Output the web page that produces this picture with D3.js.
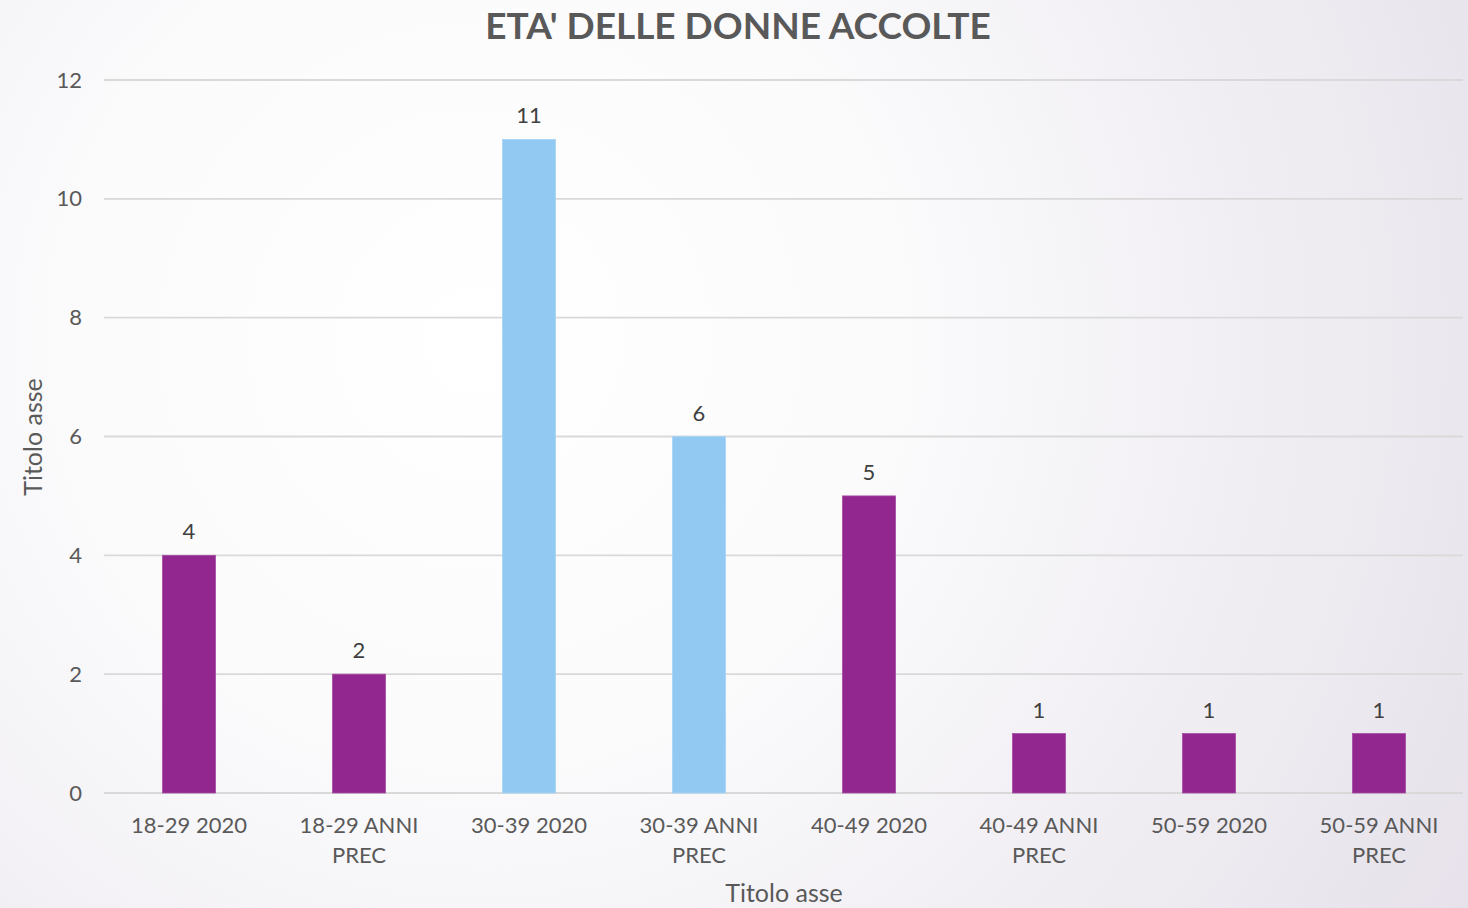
<!DOCTYPE html>
<html>
<head>
<meta charset="utf-8">
<script src="https://cdn.jsdelivr.net/npm/d3@7"></script>
<style>
  body { margin: 0; overflow: hidden; }
  text { font-family: "Lato", "Open Sans", sans-serif; }
</style>
</head>
<body>
<div id="display"></div>
<script>
var categories = [["18-29 2020"], ["18-29 ANNI", "PREC"], ["30-39 2020"], ["30-39 ANNI", "PREC"],
                  ["40-49 2020"], ["40-49 ANNI", "PREC"], ["50-59 2020"], ["50-59 ANNI", "PREC"]];
var values = [4, 2, 11, 6, 5, 1, 1, 1];
var barGroups = ["p", "p", "b", "b", "p", "p", "p", "p"];
var yTicks = [0, 2, 4, 6, 8, 10, 12];

var colourPurple = "#92278f";
var colourBlue = "#92c9f3";
var textColour = "#595959";

var W = 1468, H = 908,
  margin = {top: 80, right: 4, bottom: 115, left: 104},
  width = W - margin.left - margin.right,
  height = H - margin.top - margin.bottom;

var svg = d3.select("#display").append("svg")
    .attr("width", W)
    .attr("height", H);

var defs = svg.append("defs");
var grad = defs.append("radialGradient")
    .attr("id", "bg")
    .attr("gradientUnits", "userSpaceOnUse")
    .attr("cx", 480).attr("cy", 340).attr("r", 1150);
grad.append("stop").attr("offset", "0").attr("stop-color", "#ffffff");
grad.append("stop").attr("offset", "0.35").attr("stop-color", "#fbfbfc");
grad.append("stop").attr("offset", "1").attr("stop-color", "#e6e1ea");

svg.append("rect")
    .attr("width", W).attr("height", H)
    .attr("fill", "url(#bg)");

var g = svg.append("g")
    .attr("transform", "translate(" + margin.left + "," + margin.top + ")");

var x = d3.scaleBand()
    .domain(d3.range(values.length))
    .range([0, width])
    .paddingInner(0.688)
    .paddingOuter(0.344);

var y = d3.scaleLinear()
    .domain([0, 12])
    .range([height, 0]);

// gridlines
g.append("g")
    .selectAll("line")
    .data(yTicks)
    .enter().append("line")
      .attr("x1", 0)
      .attr("x2", width - 1)
      .attr("y1", function(d) { return y(d); })
      .attr("y2", function(d) { return y(d); })
      .attr("stroke", "#d9d9d9")
      .attr("stroke-width", 1.8);

// y axis labels
var yAxis = g.append("g")
    .call(d3.axisLeft(y).tickValues(yTicks).tickSize(0).tickPadding(22));
yAxis.select(".domain").remove();
yAxis.selectAll("text")
    .attr("fill", textColour)
    .style("font-size", "22px");

// bars
g.append("g")
    .selectAll("rect")
    .data(values)
    .enter().append("rect")
      .attr("x", function(d, i) { return x(i); })
      .attr("y", function(d) { return y(d); })
      .attr("width", x.bandwidth())
      .attr("height", function(d) { return height - y(d); })
      .attr("fill", function(d, i) { return barGroups[i] == "b" ? colourBlue : colourPurple; })
      .attr("stroke", function(d, i) { return barGroups[i] == "b" ? "#a9d4f5" : "#a64ca3"; })
      .attr("stroke-width", 0.8);

// data labels
g.append("g")
    .selectAll("text")
    .data(values)
    .enter().append("text")
      .attr("x", function(d, i) { return x(i) + x.bandwidth() / 2; })
      .attr("y", function(d) { return y(d) - 16; })
      .attr("text-anchor", "middle")
      .attr("fill", "#404040")
      .style("font-size", "22px")
      .text(function(d) { return d; });

// x axis labels
var xl = g.append("g")
    .selectAll("text")
    .data(categories)
    .enter().append("text")
      .attr("x", function(d, i) { return x(i) + x.bandwidth() / 2; })
      .attr("y", height + 40)
      .attr("text-anchor", "middle")
      .attr("fill", textColour)
      .style("font-size", "22px");
xl.selectAll("tspan")
    .data(function(d) { return d; })
    .enter().append("tspan")
      .attr("x", function() { return d3.select(this.parentNode).attr("x"); })
      .attr("dy", function(d, i) { return i == 0 ? 0 : 30; })
      .text(function(d) { return d; });

// axis titles
svg.append("text")
    .attr("x", 784)
    .attr("y", 902)
    .attr("text-anchor", "middle")
    .attr("fill", textColour)
    .style("font-size", "25px")
    .text("Titolo asse");

svg.append("text")
    .attr("transform", "translate(42,437) rotate(-90)")
    .attr("text-anchor", "middle")
    .attr("fill", textColour)
    .style("font-size", "25px")
    .text("Titolo asse");

// title
svg.append("text")
    .attr("x", 738)
    .attr("y", 39)
    .attr("text-anchor", "middle")
    .attr("fill", textColour)
    .attr("font-weight", "bold")
    .style("font-size", "37px")
    .text("ETA' DELLE DONNE ACCOLTE");
</script>
</body>
</html>
